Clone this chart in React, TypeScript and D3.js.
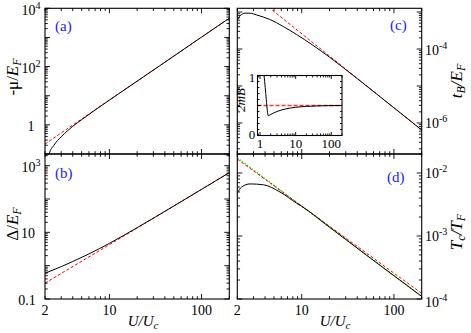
import React from 'react'
import * as d3 from 'd3'

// x values (U/Uc) and curve values
const muU = [2.18, 2.22, 2.5, 3, 3.5, 4, 5, 7, 10, 20, 50, 100, 200]
const muExact = [0.05, 0.1, 0.2, 0.39, 0.62, 0.89, 1.51, 3.24, 7.08, 31.6, 229, 1030, 4570]
const muAsymU = [2, 10, 100, 200]
const muAsym = [0.22, 7.1, 1020, 4570]

const gapU = [2, 3, 4, 6, 10, 20, 50, 100, 200]
const gapExact = [0.59, 0.938, 1.33, 2.25, 4.68, 13.8, 61.7, 195, 617]
const gapAsymU = [2, 10, 100, 200]
const gapAsym = [0.3, 4.27, 195, 617]

const tbU = [2, 2.14, 2.43, 2.75, 3.25, 4.5, 6.3, 8.8, 13, 20, 40, 100, 200]
const tbExact = [6.0e-4, 7.9e-4, 9.3e-4, 9.3e-4, 8.3e-4, 6.31e-4, 4.07e-4, 2.45e-4, 1.3e-4, 6.03e-5, 1.58e-5, 2.57e-6, 6.46e-7]
const tbAsymU = [2, 200]
const tbAsym = [6.46e-3, 6.46e-7]

const insetU = [1.25, 1.3, 1.4, 1.5, 1.6, 1.7, 1.8, 2, 3, 5, 10, 20, 50, 100, 200]
const inset2mB = [1.1, 1.0, 0.8, 0.6, 0.42, 0.33, 0.335, 0.35, 0.4, 0.44, 0.47, 0.485, 0.495, 0.498, 0.5]
const insetAsymU = [0.85, 200]
const insetAsym = [0.5, 0.5]

const tcU = [2, 2.23, 2.75, 3.83, 5.8, 8.8, 10, 20, 50, 100, 200]
const tcExact = [4.8e-3, 6.0e-3, 6.7e-3, 6.5e-3, 5.0e-3, 3.31e-3, 2.95e-3, 1.38e-3, 5.0e-4, 2.34e-4, 1.1e-4]
const tcRedU = [2, 200]
const tcRed = [0.0166, 1.23e-4]
const tcGreenU = [2, 200]
const tcGreen = [0.0174, 1.1e-4]

const xTickLabels = [2, 10, 100]

const FONT = "'Liberation Serif', 'Times New Roman', serif"
const BLUE = '#1a1aff'

function logTicks(lo: number, hi: number) {
  const out: { v: number; major: boolean }[] = []
  for (let k = Math.floor(Math.log10(lo)) - 1; k <= Math.ceil(Math.log10(hi)); k++) {
    for (let m = 1; m <= 9; m++) {
      const v = m * Math.pow(10, k)
      if (v >= lo * 0.999 && v <= hi * 1.001) out.push({ v, major: m === 1 })
    }
  }
  return out
}

function path(xs: number[], ys: number[], sx: any, sy: any) {
  return d3.line<number>()
    .x((_, i) => sx(xs[i]))
    .y(d => sy(d))
    .curve(d3.curveMonotoneX)(ys) || ''
}

function Frame({ sx, sy, id, yLinear = false, big = 5, small = 2.8 }: any) {
  const [x0, x1] = sx.range()
  const [y1, y0] = sy.range()
  const xt = logTicks(sx.domain()[0], sx.domain()[1])
  const yt = yLinear
    ? d3.range(0, 11).map(i => ({ v: i / 10, major: i % 5 === 0 }))
    : logTicks(sy.domain()[0], sy.domain()[1])
  return (
    <g>
      <clipPath id={id}><rect x={x0} y={y0} width={x1 - x0} height={y1 - y0} /></clipPath>
      {xt.map((t, i) => {
        const x = sx(t.v), l = t.major ? big : small
        return (
          <g key={'x' + i} stroke="#000" strokeWidth={0.9}>
            <line x1={x} x2={x} y1={y1} y2={y1 - l} />
            <line x1={x} x2={x} y1={y0} y2={y0 + l} />
          </g>
        )
      })}
      {yt.map((t, i) => {
        const y = sy(t.v), l = t.major ? big : small
        return (
          <g key={'y' + i} stroke="#000" strokeWidth={0.9}>
            <line x1={x0} x2={x0 + l} y1={y} y2={y} />
            <line x1={x1} x2={x1 - l} y1={y} y2={y} />
          </g>
        )
      })}
      <rect x={x0} y={y0} width={x1 - x0} height={y1 - y0} fill="none" stroke="#000" strokeWidth={1.1} />
    </g>
  )
}

function Pow({ x, y, base, exp, anchor = 'middle', size = 14 }: any) {
  return (
    <text x={x} y={y} textAnchor={anchor} fontSize={size} fontFamily={FONT}>
      {base}
      {exp !== undefined && <tspan dy={-6} fontSize={size * 0.72}>{exp}</tspan>}
    </text>
  )
}

export default function App() {
  const xL = d3.scaleLog().domain([2, 200]).range([45, 229.3])
  const xR = d3.scaleLog().domain([2, 200]).range([237.3, 421.7])
  const yA = d3.scaleLog().domain([0.1, 1e4]).range([154, 8.3])
  const yB = d3.scaleLog().domain([0.1, 2240]).range([299, 154])
  const yC = d3.scaleLog().domain([1.45e-7, 1.26e-3]).range([154, 8.3])
  const yD = d3.scaleLog().domain([1e-4, 0.02]).range([299, 154])
  const xI = d3.scaleLog().domain([0.85, 200]).range([257.5, 342])
  const yI = d3.scaleLinear().domain([0, 1]).range([135.5, 75.5])

  const black = { fill: 'none', stroke: '#000', strokeWidth: 1 }
  const red = { fill: 'none', stroke: '#ff0000', strokeWidth: 1, strokeDasharray: '3,2' }
  const green = { fill: 'none', stroke: '#00dd00', strokeWidth: 1.2, strokeDasharray: '1.5,1.5' }

  return (
    <svg width={471} height={333} style={{ position: 'absolute', left: 0, top: 0, background: '#fff' }}
      fontFamily={FONT}>
      {/* panel (a) */}
      <g clipPath="url(#ca)">
        <path d={path(muAsymU, muAsym, xL, yA)} {...red} />
        <path d={path(muU, muExact, xL, yA)} {...black} />
      </g>
      <Frame sx={xL} sy={yA} id="ca" />
      {/* panel (b) */}
      <g clipPath="url(#cb)">
        <path d={path(gapAsymU, gapAsym, xL, yB)} {...red} />
        <path d={path(gapU, gapExact, xL, yB)} {...black} />
      </g>
      <Frame sx={xL} sy={yB} id="cb" />
      {/* panel (c) */}
      <g clipPath="url(#cc)">
        <path d={path(tbAsymU, tbAsym, xR, yC)} {...red} />
        <path d={path(tbU, tbExact, xR, yC)} {...black} />
      </g>
      <Frame sx={xR} sy={yC} id="cc" />
      {/* panel (d) */}
      <g clipPath="url(#cd)">
        <path d={path(tcGreenU, tcGreen, xR, yD)} {...green} />
        <path d={path(tcRedU, tcRed, xR, yD)} {...red} />
        <path d={path(tcU, tcExact, xR, yD)} {...black} />
      </g>
      <Frame sx={xR} sy={yD} id="cd" />

      {/* inset */}
      <rect x={257.5} y={75.5} width={84.5} height={60} fill="#fff" />
      <g clipPath="url(#ci)">
        <path d={path(insetAsymU, insetAsym, xI, yI)} fill="none" stroke="#ff3030" strokeWidth={1.6} strokeDasharray="4,2" />
        <path d={path(insetU, inset2mB, xI, yI)} {...black} />
      </g>
      <Frame sx={xI} sy={yI} id="ci" yLinear big={3.5} small={2} />
      <text x={252} y={81.5} textAnchor="middle" fontSize={13}>1</text>
      <text x={252} y={139} textAnchor="middle" fontSize={13}>0</text>
      {[1, 10, 100].map(v => (
        <text key={v} x={xI(v)} y={148} textAnchor="middle" fontSize={13}>{v}</text>
      ))}
      <text transform="translate(245,100) rotate(-90)" textAnchor="middle" fontSize={13} fontStyle="italic">2mB</text>

      {/* left y tick labels */}
      <Pow x={31} y={yA(1) + 6} base="1" />
      <Pow x={31} y={yA(100) + 6} base="10" exp="2" />
      <Pow x={31} y={yA(1e4) + 7} base="10" exp="4" />
      <Pow x={27} y={yB(0.1) + 6} base="0.1" />
      <Pow x={28} y={yB(10) + 6} base="10" />
      <Pow x={31} y={yB(1000) + 6} base="10" exp="3" />
      {/* right y tick labels */}
      <Pow x={425} y={yC(1e-4) + 5.5} base="10" exp="-4" anchor="start" />
      <Pow x={425} y={yC(1e-6) + 5.5} base="10" exp="-6" anchor="start" />
      <Pow x={425} y={yD(1e-2) + 5.5} base="10" exp="-2" anchor="start" />
      <Pow x={425} y={yD(1e-3) + 5.5} base="10" exp="-3" anchor="start" />
      <Pow x={425} y={yD(1e-4) + 7.5} base="10" exp="-4" anchor="start" />

      {/* x tick labels */}
      {xTickLabels.map(v => (
        <g key={v}>
          <text x={xL(v)} y={314.5} textAnchor="middle" fontSize={14}>{v}</text>
          <text x={xR(v)} y={314.5} textAnchor="middle" fontSize={14}>{v}</text>
        </g>
      ))}

      {/* axis titles */}
      {[143, 335].map(cx => (
        <text key={cx} x={cx} y={326} textAnchor="middle" fontSize={15} fontStyle="italic">
          U/U<tspan fontSize={11} dy={3}>c</tspan>
        </text>
      ))}
      <text transform="translate(18,77) rotate(-90)" textAnchor="middle" fontSize={17}>
        -μ/<tspan fontStyle="italic">E</tspan><tspan fontStyle="italic" fontSize={12} dy={3}>F</tspan>
      </text>
      <text transform="translate(18,224) rotate(-90)" textAnchor="middle" fontSize={17}>
        Δ/<tspan fontStyle="italic">E</tspan><tspan fontStyle="italic" fontSize={12} dy={3}>F</tspan>
      </text>
      <text transform="translate(462,81) rotate(-90)" textAnchor="middle" fontSize={17} fontStyle="italic">
        t<tspan fontSize={12} dy={3}>B</tspan><tspan dy={-3}>/E</tspan><tspan fontSize={12} dy={3}>F</tspan>
      </text>
      <text transform="translate(462,232) rotate(-90)" textAnchor="middle" fontSize={17} fontStyle="italic">
        T<tspan fontSize={12} dy={3}>c</tspan><tspan dy={-3}>/T</tspan><tspan fontSize={12} dy={3}>F</tspan>
      </text>

      {/* panel letters */}
      <text x={55} y={31} fontSize={15} fill={BLUE}>(a)</text>
      <text x={55} y={178} fontSize={15} fill={BLUE}>(b)</text>
      <text x={390} y={30} fontSize={15} fill={BLUE}>(c)</text>
      <text x={387} y={182} fontSize={15} fill={BLUE}>(d)</text>
    </svg>
  )
}
